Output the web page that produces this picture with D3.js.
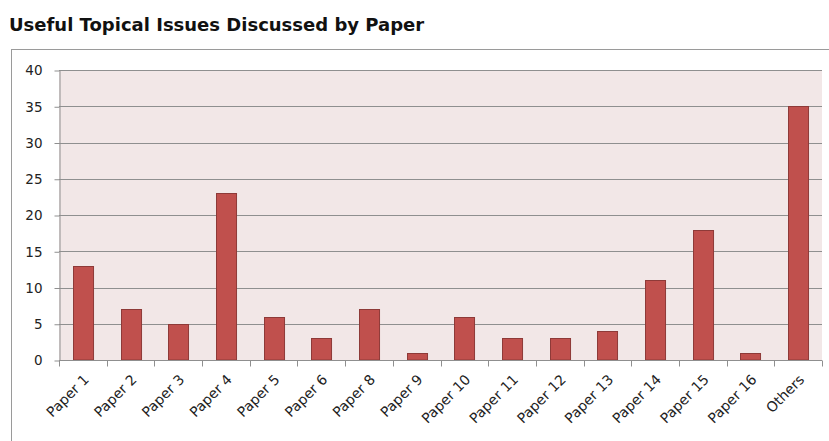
<!DOCTYPE html>
<html>
<head>
<meta charset="utf-8">
<script src="https://cdn.jsdelivr.net/npm/d3@7/dist/d3.min.js"></script>
<style>
  html, body { margin: 0; padding: 0; background: #ffffff; }
  svg { display: block; }
</style>
</head>
<body>
<script>
// Topical issues counted per paper
const papers = ["Paper 1", "Paper 2", "Paper 3", "Paper 4", "Paper 5", "Paper 6", "Paper 8", "Paper 9",
                "Paper 10", "Paper 11", "Paper 12", "Paper 13", "Paper 14", "Paper 15", "Paper 16", "Others"];
const issueCounts = [13, 7, 5, 23, 6, 3, 7, 1, 6, 3, 3, 4, 11, 18, 1, 35];
const yTicks = [0, 5, 10, 15, 20, 25, 30, 35, 40];
const chartTitle = "Useful Topical Issues Discussed by Paper";

const W = 829, H = 441;
const plot = { left: 59, right: 822, top: 70, bottom: 360 };

const svg = d3.select("body").append("svg").attr("width", W).attr("height", H);

// title
svg.append("text")
  .attr("x", 9).attr("y", 31)
  .attr("font-family", "DejaVu Sans, Verdana, sans-serif")
  .attr("font-weight", "bold")
  .attr("font-size", 18)
  .attr("fill", "#111")
  .text(chartTitle);

// outer chart frame
svg.append("rect")
  .attr("x", 11.5).attr("y", 49.5)
  .attr("width", W).attr("height", H)
  .attr("fill", "none").attr("stroke", "#9a9a9a").attr("stroke-width", 1);

const x = d3.scaleBand().domain(papers).range([plot.left, plot.right]).paddingInner(0.58).paddingOuter(0.29);
const y = d3.scaleLinear().domain([0, 40]).range([plot.bottom, plot.top]);

// plot background
svg.append("rect")
  .attr("x", plot.left).attr("y", plot.top)
  .attr("width", plot.right - plot.left).attr("height", plot.bottom - plot.top)
  .attr("fill", "#f2e7e7");

// horizontal gridlines
svg.append("g")
  .selectAll("line").data(yTicks.filter(t => t > 0)).join("line")
  .attr("x1", plot.left).attr("x2", plot.right)
  .attr("y1", d => Math.round(y(d)) + 0.5).attr("y2", d => Math.round(y(d)) + 0.5)
  .attr("stroke", "#8f8f8f").attr("stroke-width", 1);

// bars
svg.append("g")
  .selectAll("rect").data(issueCounts).join("rect")
  .attr("x", (d, i) => Math.round(x(papers[i])) + 0.5)
  .attr("y", d => Math.round(y(d)) + 0.5)
  .attr("width", x.bandwidth())
  .attr("height", d => y(0) - Math.round(y(d)) - 0.5)
  .attr("fill", "#c0504d")
  .attr("stroke", "#8e3a38").attr("stroke-width", 1);

// y axis
const yAxis = d3.axisLeft(y).tickValues(yTicks).tickSize(5).tickSizeOuter(0).tickPadding(12);
const gy = svg.append("g").attr("transform", `translate(${plot.left + 0.5},0.5)`).call(yAxis);
gy.select(".domain").attr("stroke", "#8f8f8f");
gy.selectAll(".tick line").attr("stroke", "#8f8f8f");
gy.selectAll(".tick text")
  .attr("font-family", "DejaVu Sans, Verdana, sans-serif")
  .attr("font-size", 13.5).attr("fill", "#222");

// x axis with ticks on category boundaries
const boundaries = d3.range(papers.length + 1).map(i => plot.left + i * (plot.right - plot.left) / papers.length);
const gx = svg.append("g").attr("transform", `translate(0,${plot.bottom + 0.5})`);
gx.append("line").attr("x1", plot.left).attr("x2", plot.right).attr("stroke", "#8f8f8f");
gx.selectAll("line.tk").data(boundaries).join("line").attr("class", "tk")
  .attr("x1", d => Math.round(d) + 0.5).attr("x2", d => Math.round(d) + 0.5)
  .attr("y1", 0).attr("y2", 6).attr("stroke", "#8f8f8f");
gx.selectAll("text").data(papers).join("text")
  .attr("transform", d => `translate(${x(d) + x.bandwidth() / 2 + 7},${20}) rotate(-45)`)
  .attr("text-anchor", "end")
  .attr("font-family", "DejaVu Sans, Verdana, sans-serif")
  .attr("font-size", 14).attr("fill", "#222")
  .text(d => d);
</script>
</body>
</html>
